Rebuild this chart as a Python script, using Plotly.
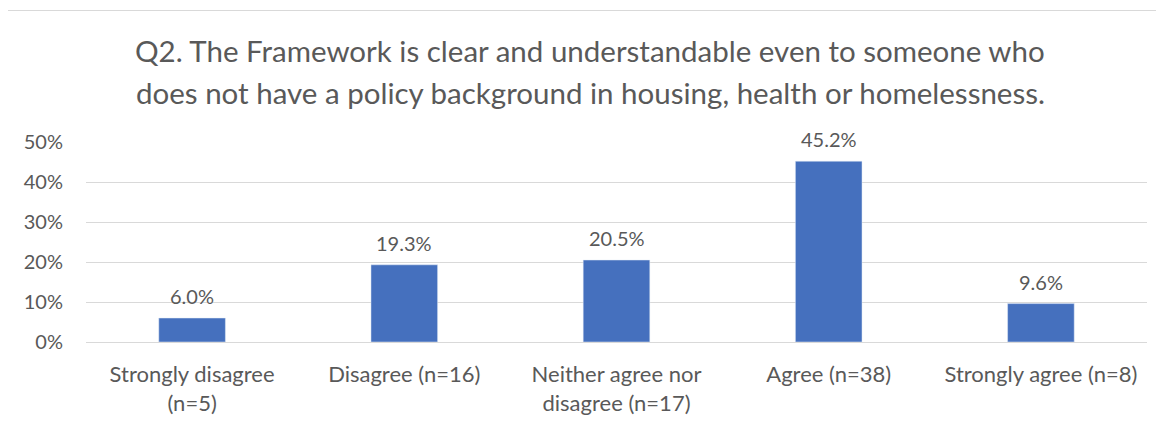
import plotly.graph_objects as go

categories = ["Strongly disagree<br>(n=5)", "Disagree (n=16)", "Neither agree nor<br>disagree (n=17)",
              "Agree (n=38)", "Strongly agree (n=8)"]
values = [0.060, 0.193, 0.205, 0.452, 0.096]
labels = ["6.0%", "19.3%", "20.5%", "45.2%", "9.6%"]
title_lines = ["Q2. The Framework is clear and understandable even to someone who",
               "does not have a policy background in housing, health or homelessness."]

FONT = "Lato"
GRAY = "#595959"

OFF = 8  # default page body margin
W, H = 1164 - OFF, 427 - OFF
L, R, T, B = 86 - OFF, 17, 142 - OFF, 85
pw, ph = W - L - R, H - T - B

fig = go.Figure(go.Bar(x=categories, y=values, marker_color="#4570BE", width=0.314))

for c, v, t in zip(categories, values, labels):
    fig.add_annotation(x=c, y=v, text=t, showarrow=False, yanchor="bottom", yshift=8,
                       font=dict(family=FONT, size=20, color=GRAY))

def px(xp):
    return (xp - OFF - L) / pw

def py(yp):
    return (H - B - (yp - OFF)) / ph

for ycen, line in zip([51, 92], title_lines):
    fig.add_annotation(xref="paper", yref="paper", x=px(590), y=py(ycen), text=line,
                       showarrow=False, xanchor="center", yanchor="middle",
                       font=dict(family=FONT, size=29.5, color=GRAY))

fig.add_shape(type="rect", xref="paper", yref="paper", x0=px(5.5), x1=px(1200), y0=py(10.5), y1=py(460),
              line=dict(color="#D9D9D9", width=1), layer="below")

fig.update_layout(
    width=W, height=H, margin=dict(l=L, r=R, t=T, b=B),
    plot_bgcolor="white", paper_bgcolor="white", showlegend=False,
    font=dict(family=FONT, size=20, color=GRAY),
)
fig.update_xaxes(showgrid=False, zeroline=False, showline=False, ticks="",
                 tickfont=dict(family=FONT, size=22, color=GRAY), ticklabelstandoff=17)
fig.update_yaxes(range=[0, 0.5], dtick=0.1, tickformat=".0%", showgrid=True, gridcolor="#D9D9D9",
                 gridwidth=1, zeroline=True, zerolinecolor="#D9D9D9", zerolinewidth=1, showline=False,
                 ticks="", tickfont=dict(family=FONT, size=20, color=GRAY), ticklabelstandoff=22)

fig.write_html("out.html")
